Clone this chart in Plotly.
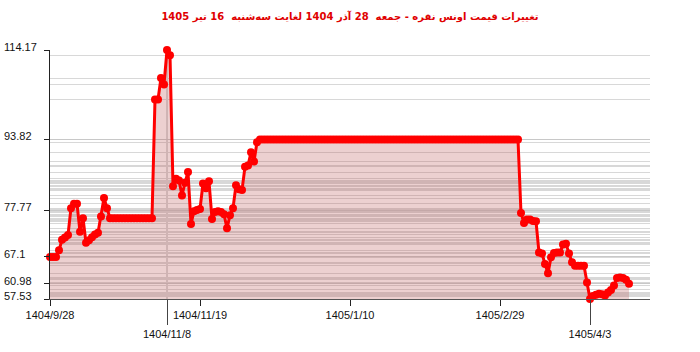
import plotly.graph_objects as go

title_text = "تغییرات قیمت اونس نقره - جمعه  28 آذر 1404 لغایت سه‌شنبه  16 تیر 1405"

prices = [
    67.1, 67.1, 67.1, 68.6, 71.0, 71.5, 72.1, 78.2, 79.2, 79.2,
    72.8, 75.9, 70.3, 70.9, 71.6, 72.2, 72.6, 76.3, 80.5, 78.2,
    75.9, 75.9, 75.9, 75.9, 75.9, 75.9, 75.9, 75.9, 75.9, 75.9,
    75.9, 75.9, 75.9, 75.9, 75.9, 102.9, 102.9, 107.8, 106.3, 114.17,
    113.0, 83.2, 84.9, 84.5, 81.1, 84.0, 86.4, 74.6, 77.5, 77.8,
    78.0, 83.8, 82.7, 84.3, 75.7, 77.3, 77.5, 77.3, 76.8, 73.6,
    76.6, 78.2, 83.4, 82.5, 82.3, 87.6, 87.9, 90.9, 88.8, 93.2,
    93.82, 93.82, 93.82, 93.82, 93.82, 93.82, 93.82, 93.82, 93.82, 93.82,
    93.82, 93.82, 93.82, 93.82, 93.82, 93.82, 93.82, 93.82, 93.82, 93.82,
    93.82, 93.82, 93.82, 93.82, 93.82, 93.82, 93.82, 93.82, 93.82, 93.82,
    93.82, 93.82, 93.82, 93.82, 93.82, 93.82, 93.82, 93.82, 93.82, 93.82,
    93.82, 93.82, 93.82, 93.82, 93.82, 93.82, 93.82, 93.82, 93.82, 93.82,
    93.82, 93.82, 93.82, 93.82, 93.82, 93.82, 93.82, 93.82, 93.82, 93.82,
    93.82, 93.82, 93.82, 93.82, 93.82, 93.82, 93.82, 93.82, 93.82, 93.82,
    93.82, 93.82, 93.82, 93.82, 93.82, 93.82, 93.82, 93.82, 93.82, 93.82,
    93.82, 93.82, 93.82, 93.82, 93.82, 93.82, 93.82, 77.1, 74.8, 75.6,
    75.6, 75.3, 75.2, 68.1, 67.9, 65.5, 63.4, 67.0, 68.0, 68.1,
    68.1, 69.9, 70.1, 67.9, 65.9, 65.1, 65.1, 65.1, 65.1, 61.3,
    57.53, 58.2, 58.5, 58.7, 58.6, 58.3, 59.0, 59.6, 60.6, 62.3,
    62.4, 62.3, 61.9, 60.98,
]
point_index = list(range(len(prices)))

x_tick_index = [0, 50, 100, 150]
x_tick_labels = ["1404/9/28", "1404/11/19", "1405/1/10", "1405/2/29"]
extreme_index = [39, 180]
extreme_labels = ["1404/11/8", "1405/4/3"]

y_tick_values = [114.17, 93.82, 77.77, 67.1, 60.98, 57.53]
y_tick_labels = ["114.17", "93.82", "77.77", "67.1", "60.98", "57.53"]

grid_values = sorted(set(prices) | set(y_tick_values))
y_min, y_max = min(prices), max(prices)

fig = go.Figure()
fig.add_trace(go.Scatter(
    x=point_index, y=prices, mode="lines+markers",
    line=dict(color="#ff0000", width=3),
    marker=dict(size=8, color="#ff0000"),
    fill="tozeroy", fillcolor="rgba(185,85,85,0.28)",
    cliponaxis=False, hoverinfo="skip", showlegend=False,
))
fig.add_trace(go.Scatter(
    x=extreme_index, y=[prices[i] for i in extreme_index], xaxis="x2",
    mode="markers", marker=dict(size=1, opacity=0),
    hoverinfo="skip", showlegend=False,
))

# vertical guide from maximum point down to axis
i_max = prices.index(y_max)
fig.add_shape(type="line", xref="x", yref="y", x0=i_max, x1=i_max,
              y0=y_max, y1=y_min, line=dict(color="#b0b0b0", width=1),
              layer="below")

for v, t in zip(y_tick_values, y_tick_labels):
    fig.add_annotation(x=0, xref="paper", y=v, yref="y", text=t,
                       showarrow=False, xanchor="left", xshift=-48, yshift=3,
                       font=dict(family="Liberation Sans, Arial", size=11, color="#111"))

axis_font = dict(family="Liberation Sans, Arial", size=11, color="#111")
fig.update_layout(
    width=700, height=352,
    margin=dict(l=50, r=50, t=50, b=50),
    paper_bgcolor="white", plot_bgcolor="white",
    title=dict(text="<b>" + title_text + "</b>", x=0.5, xanchor="center",
               y=1 - 16 / 352, yanchor="middle", yref="container",
               font=dict(family="DejaVu Sans", size=10, color="#e00000")),
    xaxis=dict(range=[0, 200], tickmode="array", tickvals=x_tick_index,
               ticktext=x_tick_labels, ticks="outside", ticklen=6,
               tickcolor="#222", showline=True, linecolor="#555", linewidth=1,
               showgrid=False, zeroline=False, tickfont=axis_font),
    xaxis2=dict(range=[0, 200], overlaying="x", anchor="y", side="bottom",
                tickmode="array", tickvals=extreme_index, ticktext=extreme_labels,
                ticks="outside", ticklen=25, tickcolor="#444",
                showline=False, showgrid=False, zeroline=False, tickfont=axis_font),
    yaxis=dict(range=[y_min, y_max], tickmode="array", tickvals=y_tick_values,
               ticktext=["" for _ in y_tick_values], ticks="outside", ticklen=5,
               tickcolor="#222", showline=True, linecolor="#222", linewidth=1,
               showgrid=True, gridcolor="#c8c8c8", gridwidth=1, zeroline=False,
               minor=dict(tickmode="array", tickvals=grid_values, showgrid=True,
                          gridcolor="#d8d8d8", gridwidth=1, ticks="")),
    showlegend=False,
)

fig.write_html("out.html")
